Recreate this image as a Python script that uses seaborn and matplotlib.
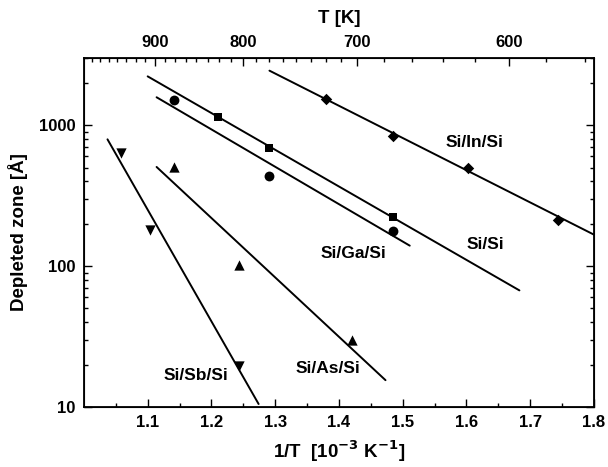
import numpy as np
import pandas as pd
import matplotlib
matplotlib.use("Agg")
import matplotlib.pyplot as plt
import seaborn as sns
from matplotlib.ticker import FixedLocator, NullFormatter, FuncFormatter, LogLocator

# measured points (1/T in 1e-3 K^-1, depleted zone in Angstrom)
in_x = [1.380, 1.485, 1.603, 1.744]
in_y = [1545, 832, 494, 213]
si_x = [1.211, 1.291, 1.485]
si_y = [1139, 692, 224]
ga_x = [1.141, 1.291, 1.485]
ga_y = [1496, 436, 176]
as_x = [1.141, 1.243, 1.421]
as_y = [505, 101, 30.1]
sb_x = [1.058, 1.104, 1.243]
sb_y = [637, 181, 19.6]

# fitted lines (end points)
in_fit_x = [1.291, 1.800]
in_fit_y = [2436, 167]
si_fit_x = [1.100, 1.683]
si_fit_y = [2219, 67.2]
ga_fit_x = [1.114, 1.511]
ga_fit_y = [1577, 139.6]
as_fit_x = [1.114, 1.473]
as_fit_y = [505, 15.5]
sb_fit_x = [1.037, 1.274]
sb_fit_y = [793, 10.5]

labels = ["Si/In/Si", "Si/Si", "Si/Ga/Si", "Si/As/Si", "Si/Sb/Si"]
label_x = [1.613, 1.629, 1.422, 1.383, 1.176]
label_y = [750, 142, 123, 18.8, 16.6]

top_major_T = [900, 800, 700, 600]

sns.set_style("ticks", {"axes.edgecolor": "black", "text.color": "black",
                        "xtick.color": "black", "ytick.color": "black",
                        "axes.labelcolor": "black"})
plt.rcParams["font.family"] = ["Liberation Sans", "DejaVu Sans"]
plt.rcParams["font.weight"] = "bold"
plt.rcParams["axes.unicode_minus"] = False

fig = plt.figure(figsize=(6.08, 4.67), dpi=100)
ax = fig.add_axes([0.138, 0.1285, 0.839, 0.7475])

series = [
    (in_x, in_y, in_fit_x, in_fit_y, "D", 34),
    (si_x, si_y, si_fit_x, si_fit_y, "s", 36),
    (ga_x, ga_y, ga_fit_x, ga_fit_y, "o", 50),
    (as_x, as_y, as_fit_x, as_fit_y, "^", 55),
    (sb_x, sb_y, sb_fit_x, sb_fit_y, "v", 55),
]
for px, py, fx, fy, mk, ms in series:
    sns.lineplot(x=fx, y=fy, ax=ax, color="black", lw=1.4)
    sns.scatterplot(x=px, y=py, ax=ax, color="black", marker=mk, s=ms,
                    edgecolor="black", linewidth=0, zorder=3)

for t, lx, ly in zip(labels, label_x, label_y):
    ax.text(lx, ly, t, ha="center", va="center", fontsize=12.5, fontweight="bold")

ax.set_yscale("log")
ax.set_xlim(1.0, 1.8)
ax.set_ylim(10, 3000)
ax.set_xticks(np.arange(1.1, 1.81, 0.1))
ax.xaxis.set_major_formatter(FuncFormatter(lambda v, p: f"{v:.1f}"))
ax.xaxis.set_minor_locator(FixedLocator(np.arange(1.05, 1.8, 0.1)))
ax.yaxis.set_major_locator(FixedLocator([10, 100, 1000]))
ax.yaxis.set_major_formatter(FuncFormatter(lambda v, p: f"{v:.0f}"))
ax.yaxis.set_minor_locator(LogLocator(base=10, subs=np.arange(2, 10)))
ax.yaxis.set_minor_formatter(NullFormatter())
ax.tick_params(which="both", direction="in", right=True, top=False,
               labelsize=12, width=1)
ax.tick_params(which="major", length=6, pad=6)
ax.tick_params(which="minor", length=3)
for s in ax.spines.values():
    s.set_linewidth(1.3)
ax.set_xlabel("1/T  [10$^{\\mathbf{-3}}$ K$^{\\mathbf{-1}}$]", fontsize=13.5,
              fontweight="bold", labelpad=6)
ax.set_ylabel("Depleted zone [Å]", fontsize=13.5, fontweight="bold", labelpad=8)

# top temperature axis
top = ax.twiny()
top.set_xlim(ax.get_xlim())
top.set_xticks([1000.0 / t for t in top_major_T])
top.set_xticklabels([str(t) for t in top_major_T])
minor_T = list(np.arange(987.5, 700, -12.5)) + list(np.arange(680, 550, -20))
top.xaxis.set_minor_locator(FixedLocator([1000.0 / t for t in minor_T if t not in top_major_T]))
top.tick_params(which="both", direction="in", labelsize=12, width=1)
top.tick_params(which="major", length=6, pad=6)
top.tick_params(which="minor", length=3)
top.set_xlabel("T [K]", fontsize=13.5, fontweight="bold", labelpad=8)

fig.savefig("out.png", dpi=100)
